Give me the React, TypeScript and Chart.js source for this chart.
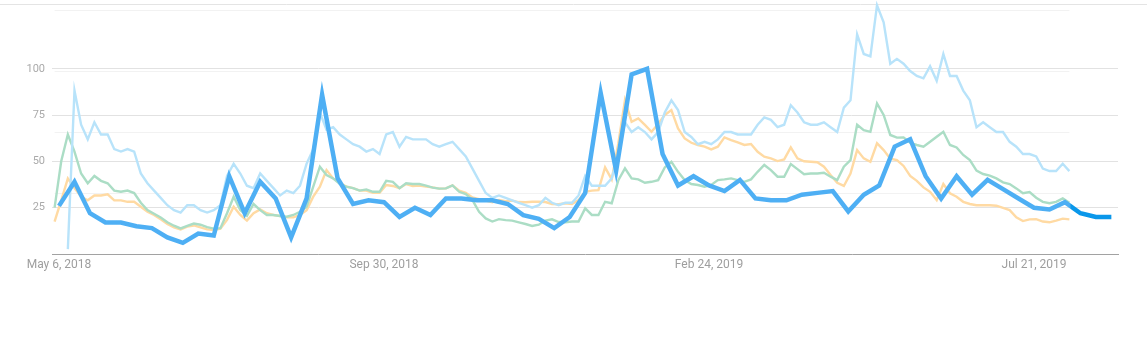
import { useEffect, useRef } from 'react';
import { Chart, registerables } from 'chart.js';

Chart.register(...registerables);

// ---- Axis ticks ----
const xTickDays = [0, 147, 294, 441];
const xTickLabels = ['May 6, 2018', 'Sep 30, 2018', 'Feb 24, 2019', 'Jul 21, 2019'];
const yTicks = [25, 50, 75, 100];
const dailyGridValues = [25, 50, 75, 100];

// ---- Weekly series (bold line), one value per week starting May 6, 2018 ----
const weeklyStartDay = 0;
const weeklyStepDays = 7;
const boldValues = [
  26, 39, 22, 17, 17, 15, 14, 9, 6, 11, 10, 42, 22, 39, 30, 9, 30, 86, 41, 27,
  29, 28, 20, 25, 21, 30, 30, 29, 29, 27, 21, 19, 14, 20, 33, 87, 45, 97, 100, 54,
  37, 42, 37, 34, 40, 30, 29, 29, 32, 33, 34, 23, 32, 37, 58, 62, 42, 30, 42, 32,
  40, 35, 30, 25, 24, 28, 22, 20, 20,
];

// ---- Daily series (faint lines), sampled every 3 days from May 4, 2018 ----
const dailyStartDay = -2;
const dailyStepDays = 3;
const lightBlueValues = [
  null, null, 2, 67, 53, 47, 54, 49, 49, 43, 42, 43, 42, 33, 29, 26, 23, 20, 18, 17,
  20, 20, 18, 17, 18, 20, 32, 37, 33, 28, 27, 33, 30, 27, 24, 26, 25, 28, 37, 43,
  58, 51, 52, 49, 47, 45, 44, 42, 43, 41, 49, 50,
  44, 48, 47, 47, 47, 45, 44, 45, 46, 43, 40, 35, 30, 25, 23, 24, 23, 22, 21, 20,
  19, 20, 23, 21, 20, 21, 21, 24, 32, 28, 28, 28, 31, 41, 54, 50, 52, 50, 47, 50,
  58, 63, 59, 50, 48, 45, 46, 45, 47, 50, 50,
  49, 49, 49, 53, 56, 55, 52, 53, 61, 58, 54, 53, 53, 54, 52, 50, 60, 63, 90, 82,
  81, 102, 95, 78, 80, 78, 75, 73, 72, 77, 71, 82, 73, 73, 67, 63, 52, 54, 52, 50,
  50, 46, 44, 41, 41, 40, 35, 34, 34, 37, 34,
];
const greenValues = [
  19, 38, 49, 42, 33, 29, 32, 30, 29, 26, 25.5, 26, 25, 21, 18, 16.5, 15, 13, 11.6, 10.5,
  11.5, 12.5, 12, 11, 10.4, 10.6, 16.7, 23.5, 18, 15.6, 20.5, 18, 16, 16, 15.6, 15.3, 16, 17.3, 19.4, 27.6,
  35.8, 32.4, 31, 28.7, 27.6, 27, 26, 26.5, 25.5, 25.5, 30, 29.6,
  27, 29, 28.7, 28.7, 28, 27.2, 26.8, 26.9, 28.1, 25.5, 24.6, 22.1, 17.3, 14.6, 13.3, 14.3, 13.9, 13.7, 13, 12.3,
  11.5, 12, 13.7, 14.2, 13.1, 13, 13.3, 13.3, 18.7, 16, 16, 21.4, 20.8, 30.3, 35.1, 31, 30.6, 29.2, 29.6, 30.3,
  35.5, 37.8, 33.7, 30.3, 28.7, 28.3, 27.6, 28.3, 30.3, 30.6, 31,
  30.3, 29.6, 30.6, 33.7, 36.5, 34.4, 31.7, 31.7, 36.9, 34.8, 32.7, 33, 33, 33.3, 31.7, 30.3, 35.8, 38.5, 53, 50.8,
  50.1, 61.7, 57, 48.8, 47.7, 47.8, 45.6, 44.7, 44, 46, 48.1, 50.1, 44.7, 43.7, 40.6, 38.5, 34.2, 32.8, 32.1, 31,
  29.4, 28.7, 26.9, 24.9, 25.4, 23.1, 21.4, 20.8, 21.4, 22.8, 21,
];
const orangeValues = [
  13.3, 22, 31, 27, 23.5, 22, 24, 24, 24.5, 22, 22, 21.4, 21.4, 19.4, 17.3, 16, 14.2, 12.3, 10.9, 10.1,
  11.2, 11.7, 10.9, 10.1, 9.8, 10.4, 14, 19.4, 16, 13.7, 16.7, 18.3, 16.7, 16, 15.6, 15, 15, 16, 18, 23.5,
  27.6, 34.4, 31, 29.2, 27.6, 27, 26, 26, 25.1, 25.1, 28.3, 27.9,
  27, 28.7, 27.9, 28.1, 27.6, 27.3, 26.8, 26.9, 28.1, 26, 25.1, 23.2, 22.5, 21.9, 21.2, 22.1, 21.7, 21.9, 21.3, 21.2,
  21.4, 21.4, 21.3, 20.5, 20.4, 20.8, 20.5, 22.1, 25.5, 26, 26.2, 35.5, 30.6, 45.4, 63.1, 54.2, 55.6, 52.9, 50.1, 53.3,
  57, 59, 51.5, 47.4, 45.6, 44.7, 44, 42.9, 44, 47.8, 46.7,
  45.8, 44.7, 45.1, 41.9, 39.9, 39.2, 38.1, 38.8, 43.7, 39.2, 38, 37.8, 37.6, 35.8, 32.4, 29.2, 27.9, 33, 42.6, 39.2,
  37.8, 45.4, 42.6, 39.1, 38.5, 36.1, 32, 30, 27.3, 25.5, 22.1, 28.7, 24.9, 23.5, 21.4, 20.5, 20, 20, 20, 19.8,
  18.9, 18, 15, 13.5, 14.2, 14.3, 13.3, 13, 13.7, 14.5, 14.2,
];

const weeklyPoints = boldValues.map((v, i) => ({ x: weeklyStartDay + i * weeklyStepDays, y: v }));
const dailyDay = (i: number) => dailyStartDay + i * dailyStepDays;
const toDaily = (arr: (number | null)[]) => arr.map((v, i) => ({ x: dailyDay(i), y: v }));
const dailyFirst = dailyStartDay;
const dailyLast = dailyDay(lightBlueValues.length - 1);

const BOLD_INNER = '#4eaff4';
const BOLD_OUTER = '#0a97ea';

const framePlugin = {
  id: 'frame',
  beforeDatasetsDraw(chart: any) {
    const { ctx, chartArea, scales } = chart;
    const xs = scales.x;
    const y2 = scales.y2;
    const x0 = xs.getPixelForValue(dailyFirst);
    const x1 = xs.getPixelForValue(dailyLast);
    ctx.save();
    ctx.lineWidth = 1;
    ctx.strokeStyle = '#f2f2f2';
    for (const v of dailyGridValues) {
      const py = Math.round(y2.getPixelForValue(v)) + 0.5;
      ctx.beginPath();
      ctx.moveTo(x0, py);
      ctx.lineTo(x1, py);
      ctx.stroke();
    }
    ctx.strokeStyle = '#e4e4e4';
    const ty = Math.round(chartArea.top) + 0.5;
    ctx.beginPath();
    ctx.moveTo(0, ty);
    ctx.lineTo(chart.width, ty);
    ctx.stroke();
    ctx.restore();
  },
};

export default function App() {
  const canvasRef = useRef<HTMLCanvasElement | null>(null);

  useEffect(() => {
    if (!canvasRef.current) return;
    const chart = new Chart(canvasRef.current, {
      type: 'line',
      data: {
        datasets: [
          {
            label: 'weekly',
            data: weeklyPoints,
            yAxisID: 'y',
            borderWidth: 4.5,
            pointRadius: 0,
            tension: 0,
            borderColor: (c: any) => {
              const ch = c.chart;
              const { chartArea, scales } = ch;
              if (!chartArea || !scales.x) return BOLD_INNER;
              const g = ch.ctx.createLinearGradient(chartArea.left, 0, chartArea.right, 0);
              const p = Math.max(0, Math.min(1, (scales.x.getPixelForValue(dailyLast) - chartArea.left) / (chartArea.right - chartArea.left)));
              g.addColorStop(0, BOLD_INNER);
              g.addColorStop(p, BOLD_INNER);
              g.addColorStop(Math.min(1, p + 0.002), BOLD_OUTER);
              g.addColorStop(1, BOLD_OUTER);
              return g;
            },
          } as any,
          {
            label: 'light blue',
            data: toDaily(lightBlueValues),
            yAxisID: 'y2',
            borderColor: '#b8e3fa',
            borderWidth: 2.4,
            pointRadius: 0,
            tension: 0,
            clip: false,
          } as any,
          {
            label: 'green',
            data: toDaily(greenValues),
            yAxisID: 'y2',
            borderColor: '#abddc5',
            borderWidth: 2.4,
            pointRadius: 0,
            tension: 0,
          } as any,
          {
            label: 'orange',
            data: toDaily(orangeValues),
            yAxisID: 'y2',
            borderColor: '#ffdaa3',
            borderWidth: 2.4,
            pointRadius: 0,
            tension: 0,
          } as any,
        ],
      },
      options: {
        responsive: false,
        animation: false,
        devicePixelRatio: 1,
        layout: { autoPadding: false, padding: { left: 0, right: 29, top: 4, bottom: 0 } },
        plugins: { legend: { display: false }, title: { display: false }, tooltip: { enabled: false } },
        scales: {
          x: {
            type: 'linear',
            min: -3.17,
            max: 479,
            grid: { display: false, drawTicks: false },
            border: { display: true, color: '#a2a2a2', width: 1 },
            afterBuildTicks: (s: any) => {
              s.ticks = xTickDays.map((v) => ({ value: v }));
            },
            afterFit: (s: any) => {
              s.height = 84;
              s.paddingLeft = 0;
              s.paddingRight = 0;
              s.paddingTop = 0;
              s.paddingBottom = 0;
            },
            ticks: {
              autoSkip: false,
              maxRotation: 0,
              padding: 4,
              color: '#9e9e9e',
              font: { family: 'Roboto', size: 12 },
              callback: (value: any) => {
                const i = xTickDays.indexOf(Number(value));
                return i >= 0 ? xTickLabels[i] : '';
              },
            },
          },
          y: {
            type: 'linear',
            position: 'left',
            min: 0,
            max: 135,
            border: { display: false },
            grid: {
              drawTicks: false,
              color: (c: any) => (c.tick && c.tick.value === 0 ? 'rgba(0,0,0,0)' : '#e2e2e2'),
            },
            afterBuildTicks: (s: any) => {
              s.ticks = [0, ...yTicks].map((v) => ({ value: v }));
            },
            afterFit: (s: any) => {
              s.width = 52;
              s.paddingLeft = 0;
              s.paddingRight = 0;
              s.paddingTop = 0;
              s.paddingBottom = 0;
            },
            ticks: {
              padding: 7,
              color: '#aaaaaa',
              font: { family: 'Roboto', size: 11 },
              callback: (value: any) => (Number(value) === 0 ? '' : String(value)),
            },
          },
          y2: {
            type: 'linear',
            display: false,
            min: 0,
            max: 102.5,
          },
        },
      } as any,
      plugins: [framePlugin],
    });
    return () => chart.destroy();
  }, []);

  return (
    <div style={{ position: 'absolute', left: 0, top: 0, width: 1147, height: 338, background: '#ffffff' }}>
      <canvas ref={canvasRef} width={1147} height={338} style={{ display: 'block' }} />
    </div>
  );
}
